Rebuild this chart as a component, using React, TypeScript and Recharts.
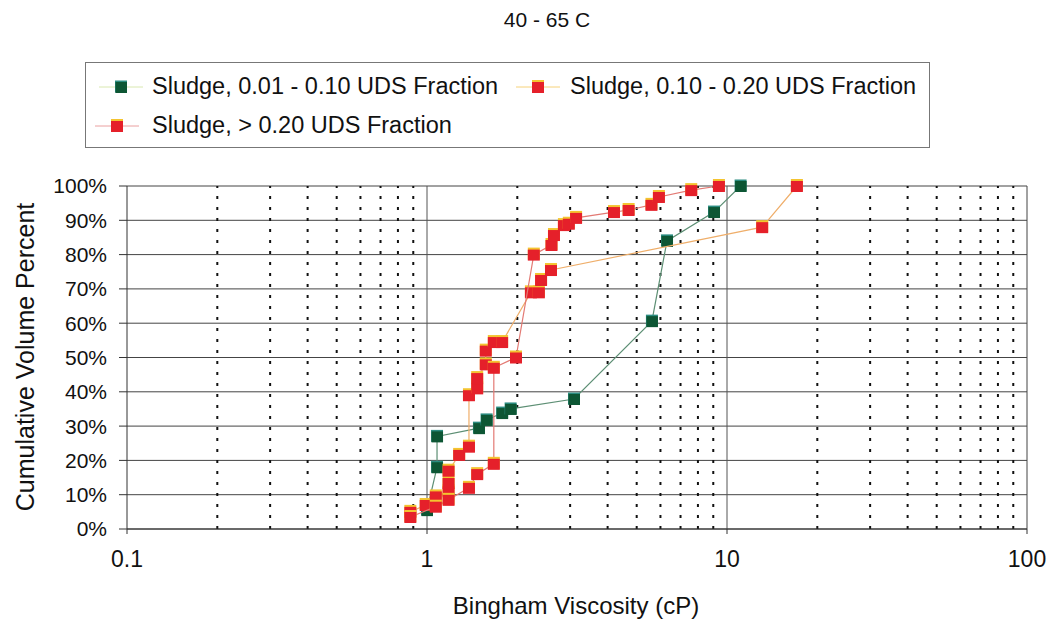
import { ScatterChart, Scatter, XAxis, YAxis, CartesianGrid, ReferenceLine } from 'recharts';

// Bingham viscosity (cP) vs cumulative volume percent
const lowX = [1.0, 1.08, 1.08, 1.49, 1.58, 1.78, 1.9, 3.09, 5.62, 6.31, 9.05, 11.1];
const lowY = [5.5, 18, 27, 29.4, 31.8, 33.8, 35, 37.9, 60.6, 84, 92.4, 100];

const midX = [0.88, 0.99, 1.07, 1.18, 1.18, 1.18, 1.28, 1.38, 1.38, 1.47, 1.47, 1.57, 1.57, 1.67, 1.78, 2.22, 2.36, 2.4, 2.59, 13.1, 17.1];
const midY = [5, 7, 9.5, 11, 13.4, 17, 21.6, 24, 39, 41, 44, 48, 52, 54.5, 54.5, 69, 69, 72.6, 75.5, 88, 100];

const highX = [0.88, 1.07, 1.18, 1.38, 1.47, 1.67, 1.67, 1.98, 2.27, 2.6, 2.65, 2.86, 2.97, 3.14, 4.2, 4.7, 5.6, 5.93, 7.6, 9.4];
const highY = [3.5, 6.5, 8.5, 12, 16, 19, 47, 50, 80, 82.8, 85.7, 88.6, 89, 90.7, 92.4, 93, 94.5, 96.8, 98.8, 100];

const xTicks = [0.1, 1, 10, 100];
const yTicks = [0, 10, 20, 30, 40, 50, 60, 70, 80, 90, 100];
const majorX = [1, 10];
const minorX = [0.2, 0.3, 0.4, 0.5, 0.6, 0.7, 0.8, 0.9, 2, 3, 4, 5, 6, 7, 8, 9, 20, 30, 40, 50, 60, 70, 80, 90];

const zip = (xs: number[], ys: number[]) => xs.map((x, i) => ({ x, y: ys[i] }));
const lowData = zip(lowX, lowY);
const midData = zip(midX, midY);
const highData = zip(highX, highY);

const FONT = '"Liberation Sans", Arial, sans-serif';

function GreenDot(props: any) {
  const { cx, cy } = props;
  if (cx == null || cy == null) return null;
  return (
    <g>
      <rect x={cx - 6} y={cy - 6.5} width={12} height={12} fill="#2b8c80" />
      <rect x={cx - 5.5} y={cy - 5} width={11.5} height={11} fill="#0d5634" />
    </g>
  );
}

function RedDot(props: any) {
  const { cx, cy } = props;
  if (cx == null || cy == null) return null;
  return (
    <g>
      <rect x={cx - 6} y={cy - 7} width={12} height={12} fill="#f4c430" />
      <rect x={cx - 6} y={cy - 5} width={12} height={11} fill="#e5202a" />
    </g>
  );
}

function LegendSymbol({ line, green }: { line: string; green?: boolean }) {
  return (
    <svg width={44} height={16} style={{ display: 'block' }}>
      <line x1={0} y1={8} x2={44} y2={8} stroke={line} strokeWidth={1} />
      {green ? <GreenDot cx={22} cy={8} /> : <RedDot cx={22} cy={8} />}
    </svg>
  );
}

export default function App() {
  const textStyle = { position: 'absolute' as const, fontFamily: FONT, color: '#111', whiteSpace: 'nowrap' as const };
  return (
    <div style={{ position: 'absolute', left: 0, top: 0, width: 1054, height: 621, background: '#fff' }}>
      <div style={{ ...textStyle, left: 0, width: 1094, top: 8, textAlign: 'center', fontSize: 21 }}>40 - 65 C</div>

      <div style={{ position: 'absolute', left: 85, top: 62, width: 845, height: 86, border: '1px solid #777', boxSizing: 'border-box' }} />
      <div style={{ position: 'absolute', left: 99, top: 79 }}><LegendSymbol line="#d9e8b0" green /></div>
      <div style={{ ...textStyle, left: 152, top: 73, fontSize: 23.5 }}>Sludge, 0.01 - 0.10 UDS Fraction</div>
      <div style={{ position: 'absolute', left: 516, top: 79 }}><LegendSymbol line="#f6d27a" /></div>
      <div style={{ ...textStyle, left: 570, top: 73, fontSize: 23.5 }}>Sludge, 0.10 - 0.20 UDS Fraction</div>
      <div style={{ position: 'absolute', left: 95, top: 118 }}><LegendSymbol line="#eaa0a0" /></div>
      <div style={{ ...textStyle, left: 152, top: 112, fontSize: 23.5 }}>Sludge, &gt; 0.20 UDS Fraction</div>

      <div
        style={{
          ...textStyle,
          left: 25,
          top: 357,
          fontSize: 25,
          transform: 'translate(-50%, -50%) rotate(-90deg)',
        }}
      >
        Cumulative Volume Percent
      </div>
      <div style={{ ...textStyle, left: 576, top: 592, fontSize: 24, transform: 'translateX(-50%)' }}>Bingham Viscosity (cP)</div>

      <div style={{ position: 'absolute', left: 0, top: 0 }}>
        <ScatterChart width={1054} height={621} margin={{ top: 186, right: 27, bottom: 32, left: 0 }}>
          <CartesianGrid vertical={false} stroke="#444" strokeWidth={1} />
          {minorX.map((v) => (
            <ReferenceLine key={v} x={v} stroke="#111" strokeWidth={2} strokeDasharray="3 8" />
          ))}
          {majorX.map((v) => (
            <ReferenceLine key={v} x={v} stroke="#555" strokeWidth={1} />
          ))}
          <ReferenceLine x={100} stroke="#444" strokeWidth={1} />
          <XAxis
            type="number"
            dataKey="x"
            scale="log"
            domain={[0.1, 100]}
            ticks={xTicks}
            allowDataOverflow
            height={60}
            tickSize={5}
            tickMargin={17}
            stroke="#333"
            tick={{ fill: '#111', fontSize: 23, fontFamily: FONT }}
          />
          <YAxis
            type="number"
            dataKey="y"
            domain={[0, 100]}
            ticks={yTicks}
            width={127}
            tickSize={8}
            tickMargin={12}
            stroke="#333"
            tickFormatter={(v: number) => `${v}%`}
            tick={{ fill: '#111', fontSize: 21, fontFamily: FONT }}
          />
          <Scatter
            data={lowData}
            line={{ stroke: '#5d8f74', strokeWidth: 1.2 }}
            shape={(p: any) => <GreenDot {...p} />}
            isAnimationActive={false}
          />
          <Scatter
            data={midData}
            line={{ stroke: '#efae6a', strokeWidth: 1.2 }}
            shape={(p: any) => <RedDot {...p} />}
            isAnimationActive={false}
          />
          <Scatter
            data={highData}
            line={{ stroke: '#e37a74', strokeWidth: 1.2 }}
            shape={(p: any) => <RedDot {...p} />}
            isAnimationActive={false}
          />
        </ScatterChart>
      </div>
    </div>
  );
}
